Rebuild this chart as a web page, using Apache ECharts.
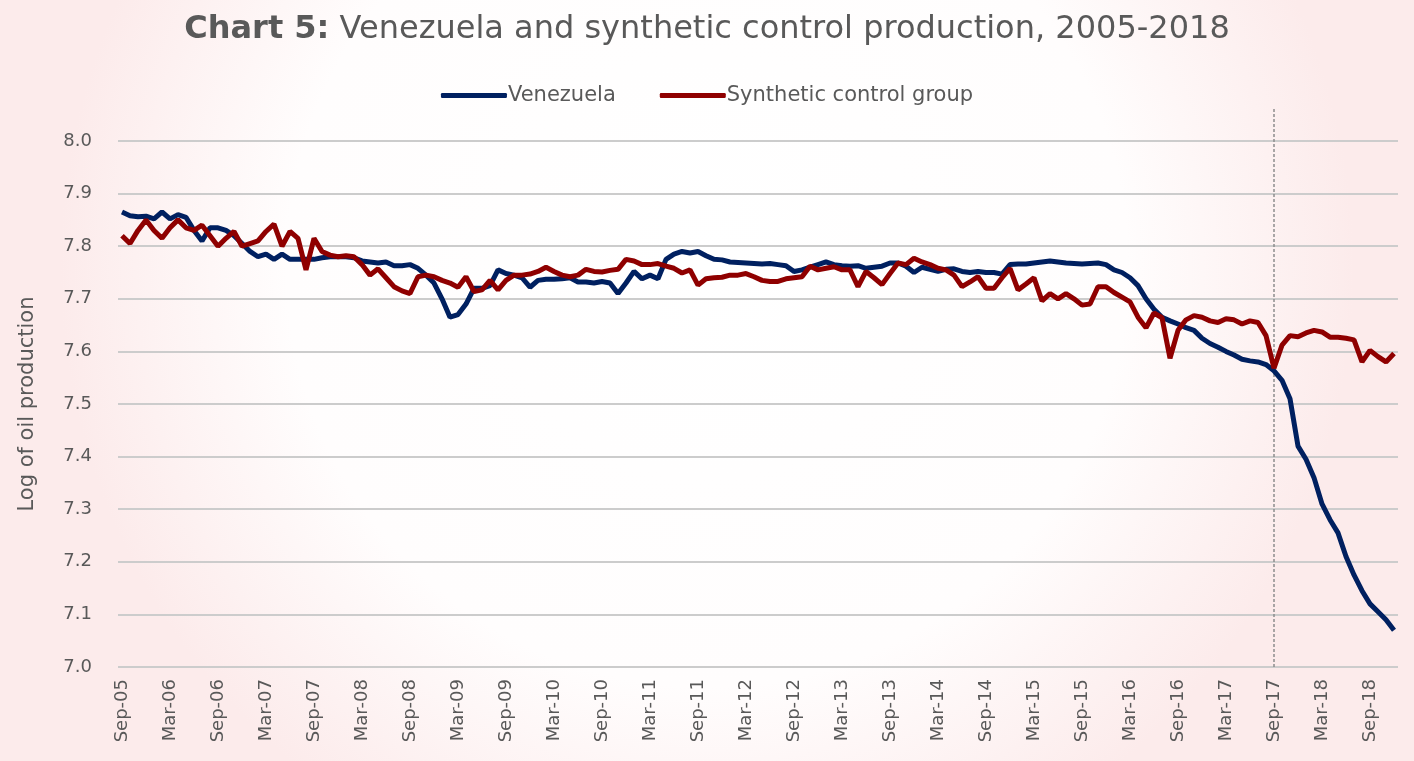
<!DOCTYPE html>
<html>

<head>
    <meta charset="utf-8">
    <title>Chart 5</title>
    <script src="https://cdn.jsdelivr.net/npm/echarts@6/dist/echarts.min.js"></script>
    <style>
        html, body { margin: 0; padding: 0; }
    </style>
</head>

<body>
    <div id="main" style="width:1414px;height:761px;"></div>
    <script type="text/javascript">
        // monthly, Sep-05 .. Dec-18
        var monthNames = ['Jan', 'Feb', 'Mar', 'Apr', 'May', 'Jun', 'Jul', 'Aug', 'Sep', 'Oct', 'Nov', 'Dec'];
        var months = [];
        for (var y = 2005, m = 8; y < 2019; ) {
            months.push(monthNames[m] + '-' + String(y).slice(2));
            m++;
            if (m > 11) { m = 0; y++; }
        }

        var venezuela = [
            7.865, 7.858, 7.856, 7.857, 7.852, 7.865, 7.852, 7.86, 7.855, 7.83,
            7.81, 7.835, 7.835, 7.83, 7.82, 7.805, 7.79, 7.78, 7.785, 7.775,
            7.785, 7.775, 7.775, 7.775, 7.775, 7.778, 7.78, 7.78, 7.78, 7.778,
            7.772, 7.77, 7.768, 7.77, 7.763, 7.763, 7.765, 7.758, 7.745, 7.73,
            7.70, 7.665, 7.67, 7.69, 7.72, 7.72, 7.725, 7.755, 7.748, 7.745,
            7.74, 7.722, 7.735, 7.737, 7.737, 7.738, 7.74, 7.732, 7.732, 7.73,
            7.733, 7.73, 7.71, 7.73, 7.752, 7.738, 7.745, 7.738, 7.775, 7.785,
            7.79, 7.787, 7.79, 7.782, 7.775, 7.774, 7.77, 7.769, 7.768, 7.767,
            7.766, 7.767, 7.765, 7.763, 7.752, 7.755, 7.76, 7.765, 7.77, 7.765,
            7.763, 7.762, 7.763, 7.758, 7.76, 7.762, 7.768, 7.768, 7.762, 7.75,
            7.76, 7.756, 7.752, 7.756, 7.757, 7.752, 7.75, 7.752, 7.75, 7.75,
            7.747, 7.765, 7.766, 7.766, 7.768, 7.77, 7.772, 7.77, 7.768, 7.767,
            7.766, 7.767, 7.768, 7.765, 7.755, 7.75, 7.74, 7.725, 7.70, 7.68,
            7.665, 7.658, 7.652, 7.645, 7.64, 7.625, 7.615, 7.608, 7.60, 7.593,
            7.585, 7.582, 7.58, 7.575, 7.563, 7.545, 7.51, 7.42, 7.395, 7.36,
            7.31, 7.28, 7.255, 7.21, 7.175, 7.145, 7.12, 7.105, 7.09, 7.07
        ];

        var synthetic = [
            7.82, 7.805, 7.83, 7.85, 7.83, 7.815, 7.835, 7.85, 7.835, 7.83,
            7.84, 7.82, 7.80, 7.815, 7.828, 7.80, 7.805, 7.81, 7.828, 7.842,
            7.80, 7.828, 7.815, 7.755, 7.815, 7.79, 7.783, 7.78, 7.782, 7.78,
            7.765, 7.745, 7.757, 7.74, 7.723, 7.715, 7.71, 7.742, 7.745, 7.742,
            7.735, 7.73, 7.722, 7.742, 7.714, 7.717, 7.735, 7.717, 7.735, 7.745,
            7.745, 7.747, 7.752, 7.76, 7.752, 7.745, 7.742, 7.745, 7.756, 7.752,
            7.751, 7.754, 7.756, 7.775, 7.772, 7.765, 7.765, 7.767, 7.762, 7.758,
            7.749, 7.755, 7.726, 7.738, 7.74, 7.741, 7.745, 7.745, 7.748, 7.742,
            7.735, 7.733, 7.733, 7.738, 7.74, 7.742, 7.762, 7.755, 7.758, 7.761,
            7.755, 7.755, 7.723, 7.752, 7.74, 7.727, 7.748, 7.768, 7.765, 7.777,
            7.77, 7.765, 7.758, 7.755, 7.745, 7.723, 7.732, 7.742, 7.72, 7.72,
            7.74, 7.758, 7.717, 7.728, 7.74, 7.696, 7.71, 7.70, 7.71, 7.70,
            7.688, 7.69, 7.723, 7.723, 7.712, 7.703, 7.694, 7.665, 7.645, 7.673,
            7.664, 7.587, 7.64, 7.66, 7.668, 7.665, 7.658, 7.655, 7.662, 7.66,
            7.652, 7.658, 7.655, 7.63, 7.568, 7.612, 7.63, 7.628, 7.635, 7.64,
            7.637, 7.627, 7.627, 7.625, 7.622, 7.58, 7.602, 7.59, 7.58, 7.596
        ];

        // start of the post-treatment period (dashed marker)
        var cutoff = 'Sep-17';
        var textColor = '#595959';
        var fontFam = '"DejaVu Sans", "Open Sans", sans-serif';

        var myChart = echarts.init(document.getElementById('main'));

        var option = {
            backgroundColor: {
                type: 'radial', x: 0.5, y: 0.35, r: 0.85,
                colorStops: [
                    { offset: 0, color: '#ffffff' },
                    { offset: 0.65, color: '#fffdfd' },
                    { offset: 1, color: '#fcebeb' }
                ]
            },
            textStyle: { fontFamily: fontFam },
            title: {
                left: 'center',
                top: 9,
                text: '{b|Chart 5:} Venezuela and synthetic control production, 2005-2018',
                textStyle: {
                    fontSize: 32,
                    fontWeight: 'normal',
                    color: textColor,
                    fontFamily: fontFam,
                    rich: {
                        b: { fontSize: 32, fontWeight: 'bold', color: textColor, fontFamily: fontFam }
                    }
                }
            },
            legend: {
                top: 80,
                left: 'center',
                itemWidth: 66,
                itemHeight: 5,
                itemGap: 44,
                icon: 'roundRect',
                textStyle: { fontSize: 21, color: textColor, padding: [0, 0, 0, -4] },
                data: ['Venezuela', 'Synthetic control group']
            },
            grid: [
                { left: 118, right: 16, top: 141, bottom: 94 },
                { left: 118, right: 16, top: 108, bottom: 94 }
            ],
            xAxis: [
                {
                    type: 'category',
                    data: months,
                    boundaryGap: true,
                    axisLine: { show: false },
                    axisTick: { show: false },
                    axisLabel: {
                        rotate: 90,
                        interval: 5,
                        fontSize: 18,
                        color: textColor,
                        margin: 12
                    }
                },
                {
                    type: 'category',
                    gridIndex: 1,
                    data: months,
                    boundaryGap: true,
                    show: false
                }
            ],
            yAxis: [
                {
                    type: 'value',
                    min: 7.0,
                    max: 8.0,
                    interval: 0.1,
                    name: 'Log of oil production',
                    nameLocation: 'middle',
                    nameGap: 80,
                    nameTextStyle: { fontSize: 21, color: textColor },
                    axisLine: { show: false },
                    axisTick: { show: false },
                    axisLabel: {
                        fontSize: 18,
                        color: textColor,
                        margin: 26,
                        formatter: function (v) { return v.toFixed(1); }
                    },
                    splitLine: { lineStyle: { color: '#cccccc', width: 2 } }
                },
                {
                    type: 'value',
                    gridIndex: 1,
                    min: 0,
                    max: 1,
                    show: false,
                    splitLine: { show: false }
                }
            ],
            series: [
                {
                    name: 'Venezuela',
                    type: 'line',
                    data: venezuela,
                    symbol: 'none',
                    color: '#002060',
                    lineStyle: { width: 5, color: '#002060' },
                    z: 3
                },
                {
                    name: 'Synthetic control group',
                    type: 'line',
                    data: synthetic,
                    symbol: 'none',
                    color: '#8f0000',
                    lineStyle: { width: 5, color: '#8f0000' },
                    z: 4
                },
                {
                    name: 'cutoff',
                    type: 'line',
                    xAxisIndex: 1,
                    yAxisIndex: 1,
                    data: [[cutoff, 0], [cutoff, 1]],
                    symbol: 'none',
                    silent: true,
                    lineStyle: { color: '#8c8c8c', width: 1.5, type: [3, 2] },
                    z: 2
                }
            ]
        };
        myChart.setOption(option);
    </script>
</body>

</html>
